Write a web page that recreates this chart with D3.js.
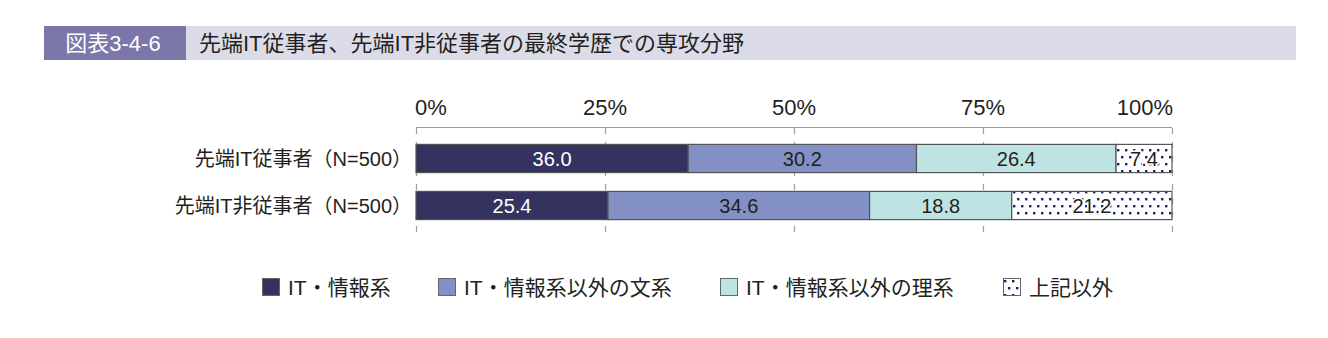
<!DOCTYPE html>
<html lang="ja">
<head>
    <meta charset="UTF-8">
    <title>図表3-4-6</title>
    <style>
        body { margin: 0; background: #fff; }
        svg text { font-family: "Liberation Sans", "Noto Sans CJK JP", sans-serif; fill: #231f20; }
    </style>
</head>
<body>
    <svg id="chart" width="1328" height="338"></svg>

    <script src="https://d3js.org/d3.v7.min.js"></script>
    <script>
        // data
        const categories = ["先端IT従事者（N=500）", "先端IT非従事者（N=500）"];
        const seriesNames = ["IT・情報系", "IT・情報系以外の文系", "IT・情報系以外の理系", "上記以外"];
        const itJoho   = [36.0, 25.4];
        const bunkei   = [30.2, 34.6];
        const rikei    = [26.4, 18.8];
        const sonota   = [7.4, 21.2];
        const tickValues = [0, 25, 50, 75, 100];
        const tickLabels = ["0%", "25%", "50%", "75%", "100%"];

        const fills = ["#34325f", "#8290c6", "#bde3e2", "url(#dots)"];
        const labelColors = ["#ffffff", "#231f20", "#231f20", "#231f20"];

        const svg = d3.select("#chart");

        // dotted pattern
        const pat = svg.append("defs").append("pattern")
            .attr("id", "dots")
            .attr("patternUnits", "userSpaceOnUse")
            .attr("width", 8).attr("height", 14);
        pat.append("rect").attr("width", 8).attr("height", 14).attr("fill", "#fff");
        pat.append("rect").attr("x", 1).attr("y", 2).attr("width", 2.4).attr("height", 2.4).attr("fill", "#1f2466");
        pat.append("rect").attr("x", 5).attr("y", 9).attr("width", 2.4).attr("height", 2.4).attr("fill", "#1f2466");

        // title band
        svg.append("rect").attr("x", 44).attr("y", 26).attr("width", 1252).attr("height", 34).attr("fill", "#dcdce8");
        svg.append("rect").attr("x", 44).attr("y", 26).attr("width", 142).attr("height", 34).attr("fill", "#7b77a9");
        svg.append("text").attr("x", 113).attr("y", 51).attr("text-anchor", "middle")
            .style("fill", "#fff").style("font-size", "22px").text("図表3-4-6");
        svg.append("text").attr("x", 199).attr("y", 51)
            .style("font-size", "22px").text("先端IT従事者、先端IT非従事者の最終学歴での専攻分野");

        const x = d3.scaleLinear().domain([0, 100]).range([416, 1172]);
        const y = d3.scaleBand().domain(categories).range([135, 229]).paddingInner(0.4).paddingOuter(0.2);

        // axis line + tick labels
        svg.append("line").attr("x1", x(0)).attr("x2", x(100)).attr("y1", 127.5).attr("y2", 127.5)
            .attr("stroke", "#9a9a9a").attr("stroke-width", 1.2);
        svg.selectAll(".tick-label").data(tickValues).enter().append("text")
            .attr("class", "tick-label")
            .attr("x", d => x(d))
            .attr("y", 115)
            .attr("text-anchor", (d, i) => i === 0 ? "start" : (i === tickValues.length - 1 ? "end" : "middle"))
            .attr("dx", (d, i) => i === 0 ? -1 : (i === tickValues.length - 1 ? 1 : 0))
            .style("font-size", "22px")
            .text((d, i) => tickLabels[i]);

        // dashed grid lines
        svg.selectAll(".grid").data(tickValues).enter().append("line")
            .attr("class", "grid")
            .attr("x1", d => x(d) + 0.5).attr("x2", d => x(d) + 0.5)
            .attr("y1", 128).attr("y2", 239)
            .attr("stroke", "#a0a0a0").attr("stroke-width", 1.2)
            .attr("stroke-dasharray", "6,8");

        // stacked data
        const rows = categories.map((c, i) => {
            const vals = [itJoho[i], bunkei[i], rikei[i], sonota[i]];
            let acc = 0;
            return vals.map((v, k) => {
                const seg = { cat: c, k: k, v: v, x0: acc, x1: acc + v };
                acc += v;
                return seg;
            });
        });
        // last segment should close to 100
        rows.forEach(r => { r[r.length - 1].x1 = 100; });

        const g = svg.append("g");
        rows.forEach(r => {
            g.selectAll(null).data(r).enter().append("rect")
                .attr("x", d => x(d.x0))
                .attr("y", d => y(d.cat))
                .attr("width", d => x(d.x1) - x(d.x0))
                .attr("height", y.bandwidth())
                .attr("fill", d => fills[d.k])
                .attr("stroke", "#555")
                .attr("stroke-width", 1.2);

            g.selectAll(null).data(r).enter().append("text")
                .attr("x", d => (x(d.x0) + x(d.x1)) / 2)
                .attr("y", d => y(d.cat) + y.bandwidth() / 2 + 7)
                .attr("text-anchor", "middle")
                .style("font-size", "20px")
                .style("fill", d => labelColors[d.k])
                .style("stroke", d => d.k === 3 ? "#fff" : "none")
                .style("stroke-width", 3)
                .style("paint-order", "stroke")
                .text(d => d.v.toFixed(1));
        });

        // category labels
        svg.selectAll(".cat").data(categories).enter().append("text")
            .attr("class", "cat")
            .attr("x", 412)
            .attr("y", d => y(d) + y.bandwidth() / 2 + 7)
            .attr("text-anchor", "end")
            .style("font-size", "20px")
            .text(d => d);

        // legend
        const legendX = [262, 438, 720, 1003];
        const lg = svg.selectAll(".legend").data(seriesNames).enter().append("g")
            .attr("class", "legend")
            .attr("transform", (d, i) => `translate(${legendX[i]},278)`);
        lg.append("rect")
            .attr("x", 0.5).attr("y", 0.5).attr("width", 17).attr("height", 17)
            .attr("fill", (d, i) => fills[i])
            .attr("stroke", "#666").attr("stroke-width", 1);
        lg.append("text")
            .attr("x", 26).attr("y", 17)
            .style("font-size", "21px")
            .text(d => d);
    </script>
</body>
</html>
